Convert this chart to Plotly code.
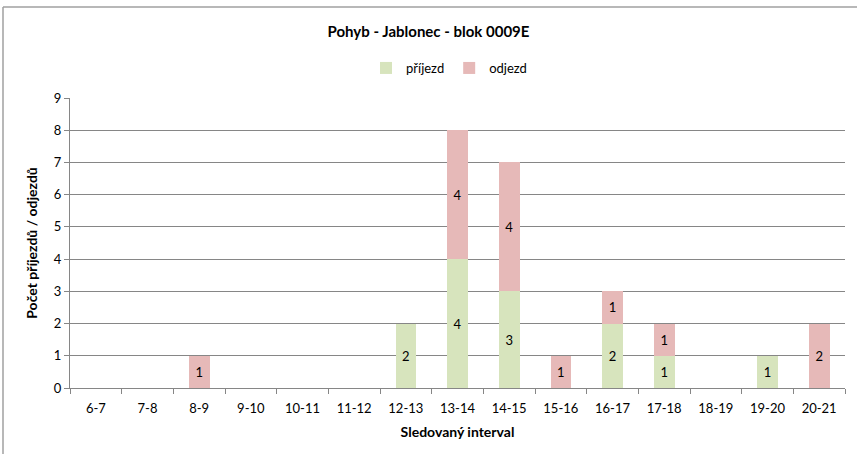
import plotly.graph_objects as go

categories = ["6-7", "7-8", "8-9", "9-10", "10-11", "11-12", "12-13", "13-14",
              "14-15", "15-16", "16-17", "17-18", "18-19", "19-20", "20-21"]
prijezd = [0, 0, 0, 0, 0, 0, 2, 4, 3, 0, 2, 1, 0, 1, 0]
odjezd = [0, 0, 1, 0, 0, 0, 0, 4, 4, 1, 1, 1, 0, 0, 2]

W, H = 857, 454
L, R, T, B = 70, 12, 98, 66
pw, ph = W - L - R, H - T - B

def px_x(x):
    return (x - L) / pw

def px_y(y):
    return (H - B - y) / ph

FONT = "Lato, Open Sans, sans-serif"

fig = go.Figure()
fig.add_trace(go.Bar(
    x=categories, y=prijezd, name="příjezd",
    marker=dict(color="#D7E4BD", line=dict(width=0)),
    text=[str(v) if v else "" for v in prijezd],
    textposition="inside", insidetextanchor="middle", textangle=0,
    textfont=dict(color="#000000", size=13, family=FONT),
))
fig.add_trace(go.Bar(
    x=categories, y=odjezd, name="odjezd",
    marker=dict(color="#E6B9B8", line=dict(width=0)),
    text=[str(v) if v else "" for v in odjezd],
    textposition="inside", insidetextanchor="middle", textangle=0,
    textfont=dict(color="#000000", size=13, family=FONT),
))

fig.update_layout(
    barmode="stack",
    bargap=0.6,
    width=W, height=H,
    margin=dict(l=L, r=R, t=T, b=B, autoexpand=False),
    paper_bgcolor="white", plot_bgcolor="white",
    font=dict(family=FONT, size=13, color="#000000"),
    title=dict(text="<b>Pohyb - Jablonec - blok 0009E</b>", x=0.5, xanchor="center",
               y=1 - 32 / H, yanchor="middle", font=dict(size=15, family=FONT)),
    legend=dict(orientation="h", x=px_x(366), xanchor="left", y=px_y(68), yanchor="middle",
                font=dict(size=13, family=FONT), traceorder="normal",
                itemwidth=30, tracegroupgap=0),
    uniformtext=dict(minsize=8, mode="show"),
)
fig.update_xaxes(
    type="category",
    showline=True, linecolor="#868686", linewidth=1,
    ticks="outside", tickson="boundaries", ticklen=5, tickcolor="#868686",
    ticklabelstandoff=8,
    tickfont=dict(size=13, family=FONT),
    title=dict(text="<b>Sledovaný interval</b>", font=dict(size=14, family=FONT), standoff=12),
)
fig.update_yaxes(
    range=[0, 9], dtick=1, tick0=0,
    showline=True, linecolor="#868686", linewidth=1,
    ticks="outside", ticklen=5, tickcolor="#868686",
    showgrid=True, gridcolor="#868686", gridwidth=1,
    zeroline=False,
    tickfont=dict(size=13, family=FONT),
    title=dict(text="<b>Počet příjezdů / odjezdů</b>", font=dict(size=14, family=FONT), standoff=12),
)

# outer chart border (top and left visible)
fig.add_shape(type="line", xref="paper", yref="paper",
              x0=px_x(3), x1=px_x(W + 5), y0=px_y(7), y1=px_y(7),
              line=dict(color="#A0A0A0", width=1.5))
fig.add_shape(type="line", xref="paper", yref="paper",
              x0=px_x(3), x1=px_x(3), y0=px_y(7), y1=px_y(H + 5),
              line=dict(color="#A0A0A0", width=1.5))

fig.write_html("out.html", config={"displayModeBar": False},
               post_script="document.body.style.margin='0px';")
